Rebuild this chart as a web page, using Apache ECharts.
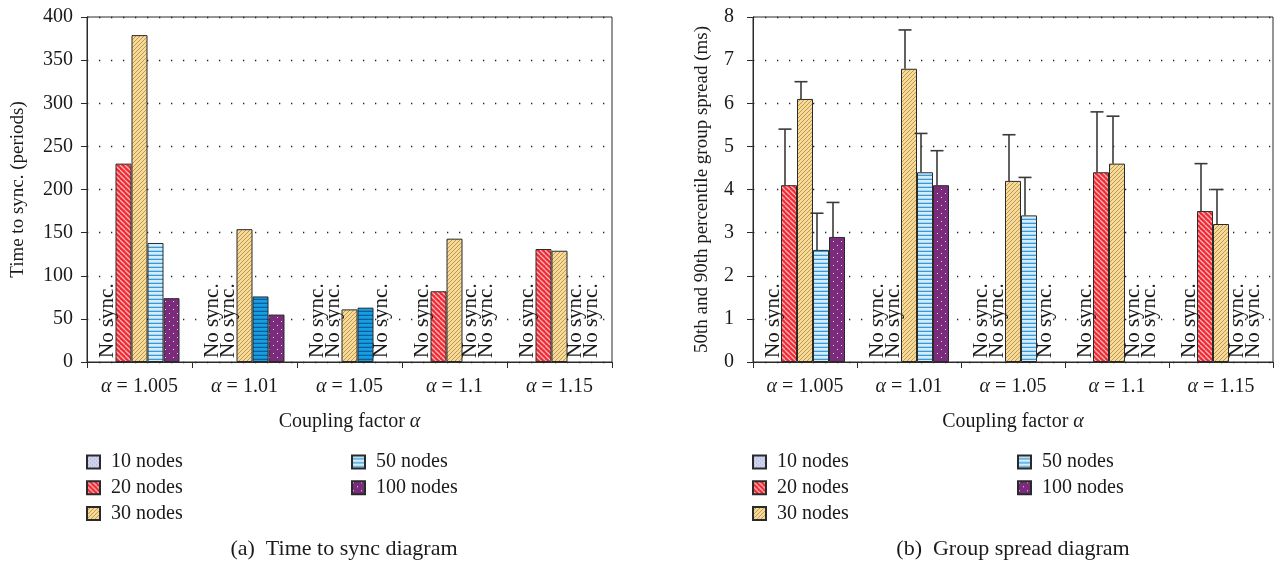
<!DOCTYPE html>
<html>
<head>
<meta charset="utf-8">
<script src="https://cdn.jsdelivr.net/npm/echarts@6/dist/echarts.min.js"></script>
<style>
  html, body { margin: 0; padding: 0; background: #fff; }
  #chart { width: 1283px; height: 566px; }
</style>
</head>
<body>
<div id="chart"></div>
<script>
// Coupling factor values on the x axis
const couplingFactors = ['1.005', '1.01', '1.05', '1.1', '1.15'];
const groupNames = ['10 nodes', '20 nodes', '30 nodes', '50 nodes', '100 nodes'];

// (a) Time to sync, in periods; null = the group never synchronised
const sync10  = [null, null, null, null, null];
const sync20  = [230, null, null, 82, 131];
const sync30  = [379, 154, 61, 143, 129];
const sync50  = [138, 76, 63, null, null];
const sync100 = [74, 55, null, null, null];

// (b) Group spread in ms: 50th percentile (bar) and 90th percentile (whisker top)
const spread10   = [null, null, null, null, null];
const spread20   = [4.1, null, null, 4.4, 3.5];
const spread30   = [6.1, 6.8, 4.2, 4.6, 3.2];
const spread50   = [2.6, 4.4, 3.4, null, null];
const spread100  = [2.9, 4.1, null, null, null];
const p90spread10  = [null, null, null, null, null];
const p90spread20  = [5.4, null, null, 5.8, 4.6];
const p90spread30  = [6.5, 7.7, 5.27, 5.7, 4.0];
const p90spread50  = [3.45, 5.3, 4.28, null, null];
const p90spread100 = [3.7, 4.9, null, null, null];

const syncTicks = { min: 0, max: 400, interval: 50 };
const spreadTicks = { min: 0, max: 8, interval: 1 };

const NO_SYNC = 'No sync.';
const FONT = '"Liberation Serif", "DejaVu Serif", serif';
const BAR_W = 16;

// ---- fill patterns -------------------------------------------------------
function tile(w, h, paint) {
  const c = document.createElement('canvas');
  c.width = w; c.height = h;
  const g = c.getContext('2d');
  paint(g, w, h);
  return { image: c, repeat: 'repeat' };
}
function diag(bg, fg, size, lw, back) {
  return tile(size, size, (g, w, h) => {
    g.fillStyle = bg; g.fillRect(0, 0, w, h);
    g.strokeStyle = fg; g.lineWidth = lw;
    for (let k = -1; k <= 1; k++) {
      g.beginPath();
      if (back) { g.moveTo(k * w, 0); g.lineTo(k * w + w, h); }
      else { g.moveTo(k * w, h); g.lineTo(k * w + w, 0); }
      g.stroke();
    }
  });
}
function hstripes(bg, fg, h, lh) {
  return tile(4, h, (g, w, hh) => {
    g.fillStyle = bg; g.fillRect(0, 0, w, hh);
    g.fillStyle = fg; g.fillRect(0, hh - lh, w, lh);
  });
}
function dots(bg, fg, size, r) {
  return tile(size, size, (g, w, h) => {
    g.fillStyle = bg; g.fillRect(0, 0, w, h);
    g.fillStyle = fg;
    g.fillRect(1, 1, r, r);
    g.fillRect(w / 2 + 1, h / 2 + 1, r, r);
  });
}

const fills = [
  dots('#cfd3ee', '#a7aedb', 4, 1),
  diag('#ee2b35', 'rgba(255,190,190,0.95)', 5, 1.3, true),
  diag('#f4db9c', '#c4974a', 4, 1, false),
  hstripes('#d3edf9', '#3b98d6', 4, 1.3),
  dots('#7a2b7c', 'rgba(255,255,255,0.85)', 8, 1)
];
const deepBlue = hstripes('#16a0e2', '#0b5d9e', 4, 1.3);
const DEEP_BLUE_COLUMNS = [1, 2]; // saturated variant of the 50-node bars in panel (a)

const noSyncLabel = {
  show: true,
  position: 'insideBottom',
  rotate: 90,
  align: 'left',
  verticalAlign: 'middle',
  distance: 4,
  formatter: NO_SYNC,
  color: '#1a1a1a',
  fontSize: 21,
  fontFamily: FONT
};

function barData(values, deepCols) {
  return values.map((v, i) => {
    if (v === null) return { value: 0, label: noSyncLabel, itemStyle: { borderWidth: 0 } };
    if (deepCols && deepCols.indexOf(i) >= 0) return { value: v, itemStyle: { color: deepBlue } };
    return v;
  });
}

function barSeries(name, k, values, axis, deepCols) {
  return {
    type: 'bar',
    name: name,
    xAxisIndex: axis, yAxisIndex: axis,
    barWidth: BAR_W,
    barGap: '0%',
    data: barData(values, deepCols),
    itemStyle: { color: fills[k], borderColor: '#2a2a2a', borderWidth: 1 },
    emphasis: { disabled: true },
    z: 3
  };
}

// Whisker from the 50th up to the 90th percentile, drawn next to each bar
function whiskerSeries(k, med, p90) {
  const pts = [];
  med.forEach((v, i) => { if (v !== null && p90[i] !== null) pts.push([i, v, p90[i]]); });
  const shift = (k - 2) * BAR_W - 4;
  return {
    type: 'custom',
    xAxisIndex: 1, yAxisIndex: 1,
    z: 5,
    silent: true,
    data: pts,
    renderItem: (params, api) => {
      const a = api.coord([api.value(0), api.value(1)]);
      const b = api.coord([api.value(0), api.value(2)]);
      const x = a[0] + shift;
      const st = { stroke: '#3a3a3a', lineWidth: 1.6 };
      return {
        type: 'group',
        children: [
          { type: 'line', shape: { x1: x, y1: a[1], x2: x, y2: b[1] }, style: st },
          { type: 'line', shape: { x1: x - 6.5, y1: b[1], x2: x + 6.5, y2: b[1] }, style: st }
        ]
      };
    }
  };
}

const textBase = { fontFamily: FONT, color: '#1a1a1a', fontSize: 20 };

function xAxisCfg(gi) {
  return {
    type: 'category', gridIndex: gi, data: couplingFactors,
    axisLine: { lineStyle: { color: '#2a2a2a', width: 1 } },
    axisTick: { show: true, length: 6, lineStyle: { color: '#2a2a2a' } },
    axisLabel: {
      interval: 0,
      margin: 15,
      formatter: v => '{a|α} = ' + v,
      ...textBase,
      rich: { a: { fontStyle: 'italic', fontFamily: FONT, fontSize: 20, color: '#1a1a1a' } }
    },
    name: '{t|Coupling factor }{a|α}',
    nameLocation: 'middle',
    nameGap: 50,
    nameTextStyle: {
      ...textBase,
      rich: {
        t: { fontFamily: FONT, fontSize: 20, color: '#1a1a1a' },
        a: { fontFamily: FONT, fontSize: 20, color: '#1a1a1a', fontStyle: 'italic' }
      }
    }
  };
}

function yAxisCfg(gi, ticks, name, gap, labelMargin) {
  return {
    type: 'value', gridIndex: gi,
    min: ticks.min, max: ticks.max, interval: ticks.interval,
    axisLine: { show: true, lineStyle: { color: '#2a2a2a', width: 1 } },
    axisTick: { show: true, length: 6, lineStyle: { color: '#2a2a2a' } },
    axisLabel: { margin: labelMargin, ...textBase },
    splitLine: { show: true, lineStyle: { color: '#222', width: 1.3, type: [1.3, 10.7] } },
    name: name, nameLocation: 'middle', nameGap: gap, nameRotate: 90,
    nameTextStyle: { ...textBase, fontSize: 19 }
  };
}

function legendPair(left0, left1) {
  const common = {
    orient: 'vertical', icon: 'rect', itemWidth: 13, itemHeight: 13, itemGap: 5.7,
    selectedMode: false, top: 452, padding: 0,
    textStyle: { ...textBase, fontSize: 20, lineHeight: 20, padding: [0, 0, 0, 6] }
  };
  return [
    { ...common, left: left0, data: groupNames.slice(0, 3) },
    { ...common, left: left1, data: groupNames.slice(3) }
  ];
}

const chart = echarts.init(document.getElementById('chart'), null, { renderer: 'canvas' });

const syncSets = [sync10, sync20, sync30, sync50, sync100];
const spreadSets = [spread10, spread20, spread30, spread50, spread100];
const p90Sets = [p90spread10, p90spread20, p90spread30, p90spread50, p90spread100];

const series = [];
groupNames.forEach((n, k) => series.push(barSeries(n, k, syncSets[k], 0, k === 3 ? DEEP_BLUE_COLUMNS : null)));
groupNames.forEach((n, k) => series.push(barSeries(n, k, spreadSets[k], 1, null)));
groupNames.forEach((n, k) => series.push(whiskerSeries(k, spreadSets[k], p90Sets[k])));

chart.setOption({
  animation: false,
  backgroundColor: '#ffffff',
  grid: [
    { left: 87, top: 17, width: 525, height: 345, show: true, borderColor: '#2a2a2a', borderWidth: 1, backgroundColor: 'transparent' },
    { left: 753, top: 17, width: 520, height: 345, show: true, borderColor: '#2a2a2a', borderWidth: 1, backgroundColor: 'transparent' }
  ],
  xAxis: [xAxisCfg(0), xAxisCfg(1)],
  yAxis: [
    yAxisCfg(0, syncTicks, 'Time to sync. (periods)', 59, 14),
    yAxisCfg(1, spreadTicks, '50th and 90th percentile group spread (ms)', 41, 19)
  ],
  legend: [...legendPair(86, 351), ...legendPair(752, 1017)],
  graphic: [
    { type: 'text', x: 344, y: 549, style: { text: '(a)  Time to sync diagram', font: '22px ' + FONT, fill: '#1a1a1a', textAlign: 'center', textVerticalAlign: 'middle' } },
    { type: 'text', x: 1013, y: 549, style: { text: '(b)  Group spread diagram', font: '22px ' + FONT, fill: '#1a1a1a', textAlign: 'center', textVerticalAlign: 'middle' } }
  ],
  series: series
});
</script>
</body>
</html>
